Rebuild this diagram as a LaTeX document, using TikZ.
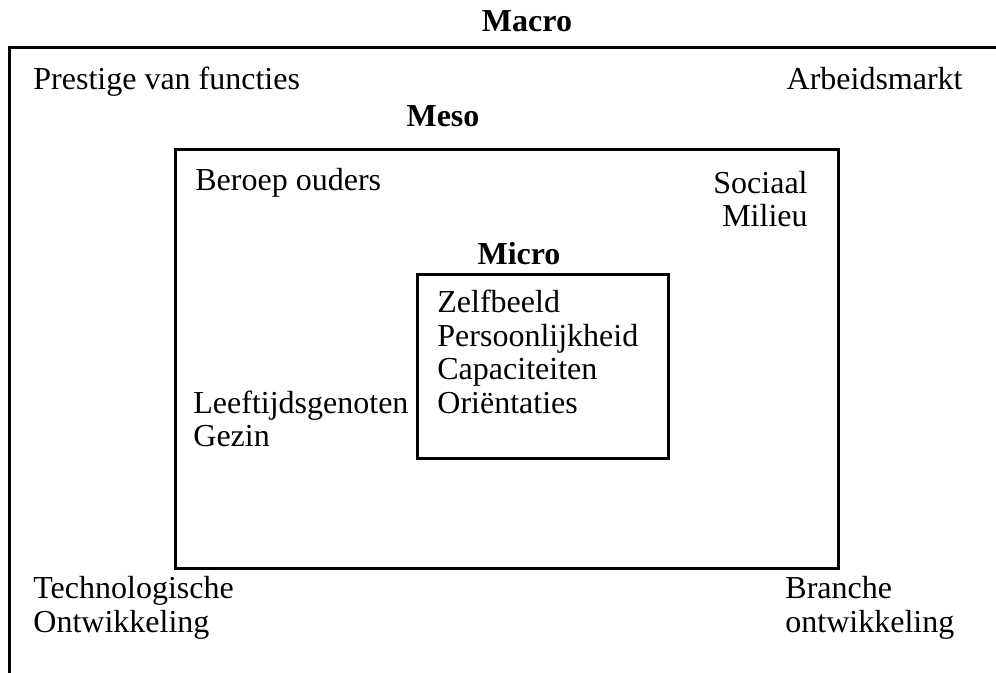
\documentclass[tikz,border=0pt]{standalone}
\usepackage{fontspec}
\setmainfont{Liberation Serif}
\usepackage{tikz}
\tikzset{lbl/.style={inner sep=0pt,font=\fontsize{16}{16.75}\selectfont},
         kop/.style={lbl,font=\fontsize{16}{16.75}\selectfont\bfseries},
         kader/.style={draw,line width=1.5pt}}

\begin{document}
\begin{tikzpicture}[x=0.5pt,y=-0.5pt]
    \useasboundingbox (0,0) rectangle (996,673);

    \draw [kader] (996,48) -- (9,48) -- (9,673);
    \draw [kader] (175,150) rectangle (838,568);
    \draw [kader] (417,275) rectangle (668,459);

    \node[kop] (ma) at (527,21) {Macro};
    \node[kop] (me) at (443,116) {Meso};
    \node[kop] (mi) at (519,254) {Micro};

    \node[lbl,anchor=base west] (p) at (33,90) {Prestige van functies};
    \node[lbl,anchor=base east] (a) at (963,90) {Arbeidsmarkt};
    \node[lbl,anchor=base west] (b) at (195,191) {Beroep ouders};
    \node[lbl,anchor=east,align=right] (s) at (808,199) {Sociaal\\Milieu};
    \node[lbl,anchor=west,align=left] (z) at (437,352) {Zelfbeeld\\Persoonlijkheid\\Capaciteiten\\Oriëntaties};
    \node[lbl,anchor=west,align=left] (l) at (193,419) {Leeftijdsgenoten\\Gezin};
    \node[lbl,anchor=west,align=left] (t) at (33,608) {Technologische\\Ontwikkeling};
    \node[lbl,anchor=west,align=left] (o) at (785,608) {Branche\\ontwikkeling};
\end{tikzpicture}
\end{document}
